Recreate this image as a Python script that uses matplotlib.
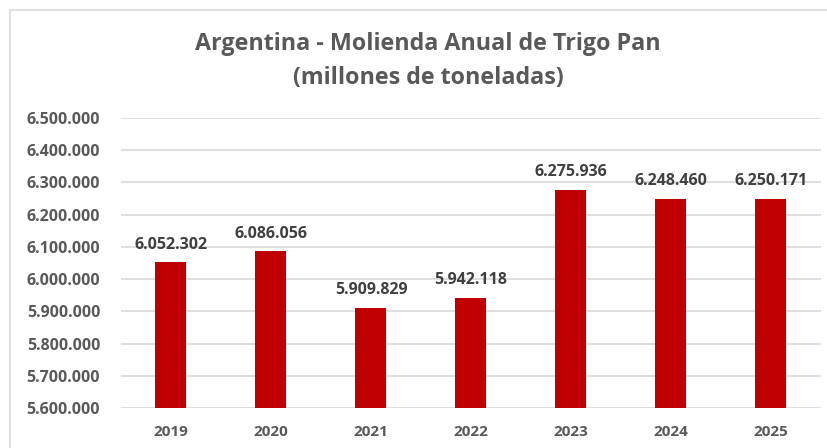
import matplotlib
matplotlib.use("Agg")
import matplotlib.pyplot as plt
from matplotlib.patches import Rectangle
from matplotlib.ticker import FuncFormatter

YEARS = ["2019", "2020", "2021", "2022", "2023", "2024", "2025"]
MOLIENDA = [6052302, 6086056, 5909829, 5942118, 6275936, 6248460, 6250171]
Y_TICKS = [5600000 + i * 100000 for i in range(10)]

BAR_COLOR = "#C00000"
TEXT_GRAY = "#595959"
LABEL_GRAY = "#404040"
GRID_GRAY = "#D9D9D9"


def miles(v, _pos=None):
    # formato con punto como separador de miles
    return f"{int(round(v)):,}".replace(",", ".")


plt.rcParams["font.family"] = ["Open Sans", "DejaVu Sans"]
plt.rcParams["font.weight"] = "bold"

fig = plt.figure(figsize=(8.28, 4.48), dpi=100)
W, H = 828, 448
ax = fig.add_axes([121 / W, 1 - 408 / H, 700 / W, 290 / H])

x = range(len(YEARS))
ax.bar(x, MOLIENDA, width=0.31, color=BAR_COLOR, zorder=3)

for xi, v in zip(x, MOLIENDA):
    ax.annotate(miles(v), (xi, v), xytext=(0, 7), textcoords="offset points",
                ha="center", va="bottom", fontsize=11.5, fontweight="bold",
                color=LABEL_GRAY)

ax.set_xlim(-0.5, len(YEARS) - 0.5)
ax.set_ylim(Y_TICKS[0], Y_TICKS[-1])
ax.set_yticks(Y_TICKS)
ax.yaxis.set_major_formatter(FuncFormatter(miles))
ax.set_xticks(list(x))
ax.set_xticklabels(YEARS)
ax.grid(axis="y", color=GRID_GRAY, linewidth=1.2, zorder=0)
for s in ax.spines.values():
    s.set_visible(False)
ax.tick_params(axis="both", length=0, labelsize=11.5, labelcolor=TEXT_GRAY)
ax.tick_params(axis="x", labelsize=11, pad=12)
ax.tick_params(axis="y", pad=15)
for lab in ax.get_xticklabels() + ax.get_yticklabels():
    lab.set_fontweight("bold")

fig.text(428 / W, 1 - 61 / H,
         "Argentina - Molienda Anual de Trigo Pan\n(millones de toneladas)",
         ha="center", va="center", fontsize=16.75, fontweight="bold",
         color=TEXT_GRAY, linespacing=1.55)

# marco del gráfico (se corta por la derecha y abajo)
fig.patches.append(Rectangle((10 / W, -0.1), 1.2, 1 - 10 / H + 0.1,
                             transform=fig.transFigure, fill=False,
                             edgecolor=GRID_GRAY, linewidth=1.2))

fig.savefig("out.png", dpi=100)
